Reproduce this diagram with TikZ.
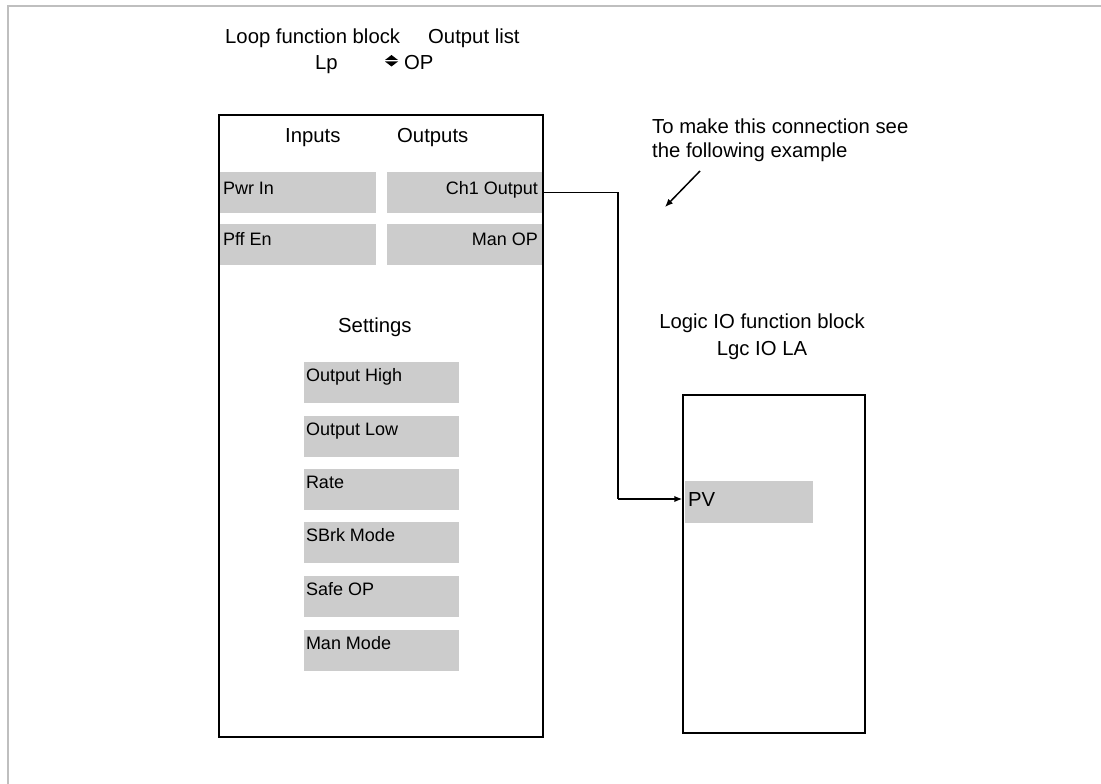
\documentclass[tikz,border=0pt]{standalone}
\usepackage{fontspec}
\setmainfont{Liberation Sans}
\usetikzlibrary{arrows.meta}
\begin{document}
\begin{tikzpicture}[x=1pt,y=-1pt,
  big/.style={font=\fontsize{20.3}{24}\selectfont, inner sep=0pt},
  small/.style={font=\fontsize{18}{21}\selectfont, inner sep=0pt},
  gbox/.style={fill=black!20, draw=none, minimum width=#1, minimum height=41pt, inner sep=0pt},
  blk/.style={draw=black, line width=1.5pt, inner sep=0pt},
  conn/.style={draw=black, line width=1.5pt},
  tip/.style={-{Latex[length=8pt,width=6.5pt]}}]
\useasboundingbox (0,0) rectangle (1101,784);
% frame
\draw[black!25, line width=2pt] (8,784) -- (8,6) -- (1101,6);

% titles
\node[big, anchor=base west] (t1) at (225,44) {Loop function block};
\node[big, anchor=base west] (t2) at (428,44) {Output list};
\node[big, anchor=base west] (lp) at (315,70) {Lp};
\node[big, anchor=base west] (op) at (404,70) {OP};
\fill (385,60) -- (391.5,55) -- (398,60) -- cycle;
\fill (385,61.5) -- (391.5,66.5) -- (398,61.5) -- cycle;

% gray boxes of loop block
\node[gbox=156] (pwr) at (298,192.5) {};
\node[gbox=155] (ch1) at (464.5,192.5) {};
\node[gbox=156] (pff) at (298,244) {};
\node[gbox=155] (manop) at (464.5,244) {};
\node[gbox=155] (s1) at (381.5,382.5) {};
\node[gbox=155] (s2) at (381.5,436.5) {};
\node[gbox=155] (s3) at (381.5,489.5) {};
\node[gbox=155] (s4) at (381.5,542.5) {};
\node[gbox=155] (s5) at (381.5,596.5) {};
\node[gbox=155] (s6) at (381.5,650.5) {};

\node[small, anchor=base west] at ([shift={(3,1.5)}]pwr.west) {Pwr In};
\node[small, anchor=base east] at ([shift={(-4,1.5)}]ch1.east) {Ch1 Output};
\node[small, anchor=base west] at ([shift={(3,1.5)}]pff.west) {Pff En};
\node[small, anchor=base east] at ([shift={(-4,1.5)}]manop.east) {Man OP};
\node[small, anchor=base west] at ([shift={(2,-1.5)}]s1.west) {Output High};
\node[small, anchor=base west] at ([shift={(2,-1.5)}]s2.west) {Output Low};
\node[small, anchor=base west] at ([shift={(2,-1.5)}]s3.west) {Rate};
\node[small, anchor=base west] at ([shift={(2,-1.5)}]s4.west) {SBrk Mode};
\node[small, anchor=base west] at ([shift={(2,-1.5)}]s5.west) {Safe OP};
\node[small, anchor=base west] at ([shift={(2,-1.5)}]s6.west) {Man Mode};

% loop block border
\node[blk, minimum width=324pt, minimum height=622pt] (loop) at (381,426) {};
\node[big, anchor=base west] (inputs) at (285,142) {Inputs};
\node[big, anchor=base west] (outputs) at (397,142) {Outputs};
\node[big, anchor=base west] (settings) at (338,332) {Settings};

% logic IO block
\node[big, anchor=base] (l1) at (762,328) {Logic IO function block};
\node[big, anchor=base] (l2) at (762,355) {Lgc IO LA};
\node[gbox=128, minimum height=42pt] (pv) at (749,502) {};
\node[big, anchor=base west] at ([shift={(3,4)}]pv.west) {PV};
\node[blk, minimum width=182pt, minimum height=338pt] (logic) at (774,564) {};

% connector
\coordinate (cx) at (618,499);
\draw[conn] (ch1.east) -| (cx);
\draw[conn, tip] (cx) -- (logic.west |- cx);

% note
\node[big, anchor=base west] (n1) at (652,133) {To make this connection see};
\node[big, anchor=base west] (n2) at (652,157) {the following example};
\coordinate (na) at (700,171);
\coordinate (nb) at (665,207);
\draw[conn, tip] (na) -- (nb);
\end{tikzpicture}
\end{document}
